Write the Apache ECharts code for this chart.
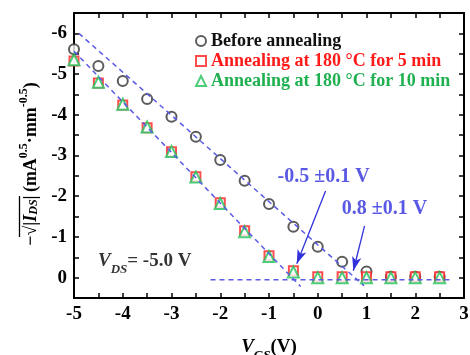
<!DOCTYPE html>
<html>
<head>
<meta charset="utf-8">
<script src="https://cdn.jsdelivr.net/npm/echarts@6/dist/echarts.min.js"></script>
<style>
html, body { margin: 0; padding: 0; background: #fff; }
#chart { width: 470px; height: 355px; }
</style>
</head>
<body>
<div id="chart"></div>
<script>
// 数据
const vgs = [-5, -4.5, -4, -3.5, -3, -2.5, -2, -1.5, -1, -0.5, 0, 0.5, 1, 1.5, 2, 2.5];
const before = [-5.61, -5.2, -4.83, -4.39, -3.95, -3.46, -2.89, -2.38, -1.81, -1.25, -0.76, -0.39, -0.15, -0.02, -0.02, -0.02];
const anneal5 = [-5.32, -4.78, -4.24, -3.68, -3.09, -2.48, -1.84, -1.15, -0.54, -0.17, -0.02, -0.02, -0.02, -0.02, -0.02, -0.02];
const anneal10 = [-5.35, -4.8, -4.26, -3.7, -3.1, -2.47, -1.82, -1.13, -0.52, -0.14, 0, 0, 0, 0, 0, 0];
const seriesNames = ['Before annealing', 'Annealing at 180 °C for 5 min', 'Annealing at 180 °C for 10 min'];

// 拟合虚线
const fitBefore = [[-4.9, -6.0], [0.95, 0.2]];
const fitAnneal = [[-5.0, -5.56], [-0.35, 0.22]];
const offLine = [[-2.2, 0.05], [2.7, 0.05]];

// 标注
const notes = [
    [0.12, -2.48, '-0.5 \u00b10.1 V'],
    [1.37, -1.69, '0.8 \u00b10.1 V']
];
const arrows = [
    [[0.16, -2.13], [-0.43, -0.34]],
    [[0.96, -1.27], [0.73, -0.17]]
];
const vdsNote = [[-3.55, -0.34]];

// 坐标轴范围
const xRange = [-5, 3];
const yRange = [-6.5, 0.5];

const serif = 'Liberation Serif';
const blue = '#3030dc';
const intLabel = v => (Math.abs(v - Math.round(v)) < 1e-9 ? String(Math.round(v)) : '');

const myChart = echarts.init(document.getElementById('chart'));

function axisBase() {
    return {
        type: 'value',
        interval: 0.5,
        axisLine: { show: true, onZero: false, lineStyle: { color: '#000', width: 2 } },
        axisTick: { show: true, inside: true, length: 5, lineStyle: { color: '#000', width: 1.5 } },
        splitLine: { show: false }
    };
}

const pairs = arr => vgs.map((x, i) => [x, arr[i]]);
const dash = { color: '#5a5ae6', width: 1.5, type: [5, 4] };
const tickFont = { color: '#000', fontFamily: serif, fontWeight: 'bold', fontSize: 19, margin: 7 };

// y 轴标题（旋转）
const yTitleRich = {
    m: { fontFamily: serif, fontWeight: 'bold', fontSize: 18, color: '#000', lineHeight: 22, verticalAlign: 'bottom' },
    i: { fontFamily: serif, fontStyle: 'italic', fontWeight: 'bold', fontSize: 18, color: '#000', lineHeight: 22, verticalAlign: 'bottom' },
    s: { fontFamily: serif, fontStyle: 'italic', fontWeight: 'bold', fontSize: 12, color: '#000', lineHeight: 18, verticalAlign: 'bottom' },
    t: { fontFamily: serif, fontWeight: 'bold', fontSize: 18, color: '#000', lineHeight: 22, verticalAlign: 'bottom' },
    p: { fontFamily: serif, fontWeight: 'bold', fontSize: 12, color: '#000', lineHeight: 22, verticalAlign: 'top' }
};

myChart.setOption({
    animation: false,
    grid: { left: 74, right: 6, top: 13, bottom: 57, outerBoundsMode: 'none', containLabel: false },
    graphic: [
        {
            type: 'text',
            x: 29, y: 164,
            rotation: Math.PI / 2,
            style: {
                text: '{m|\u2212\u221a|}{i|I}{s|DS}{m||} {t|(mA}{p|0.5}{t|\u00b7mm}{p|-0.5}{t|)}',
                rich: yTitleRich,
                align: 'center',
                verticalAlign: 'middle'
            }
        },
        {
            // 根号上横线
            type: 'line',
            shape: { x1: 19.5, y1: 196, x2: 19.5, y2: 237 },
            style: { stroke: '#000', lineWidth: 1.3 }
        }
    ],
    legend: {
        orient: 'vertical',
        left: 190,
        top: 26,
        itemGap: 0,
        itemWidth: 10,
        itemHeight: 10,
        data: [
            { name: seriesNames[0], textStyle: { color: '#111' } },
            { name: seriesNames[1], textStyle: { color: '#ff1a1a' } },
            { name: seriesNames[2], textStyle: { color: '#1fb050' } }
        ],
        textStyle: { fontFamily: serif, fontWeight: 'bold', fontSize: 18, lineHeight: 20, padding: [0, 0, 0, 0] }
    },
    xAxis: [
        Object.assign(axisBase(), {
            position: 'bottom', min: xRange[0], max: xRange[1],
            axisLabel: Object.assign({ formatter: intLabel }, tickFont),
            name: '{v|V}{s|GS}{t|(V)}',
            nameLocation: 'middle',
            nameGap: 40,
            nameTextStyle: {
                rich: {
                    v: { fontFamily: serif, fontStyle: 'italic', fontWeight: 'bold', fontSize: 19, color: '#000', lineHeight: 24, verticalAlign: 'top' },
                    s: { fontFamily: serif, fontStyle: 'italic', fontWeight: 'bold', fontSize: 13, color: '#000', lineHeight: 24, verticalAlign: 'bottom' },
                    t: { fontFamily: serif, fontWeight: 'bold', fontSize: 19, color: '#000', lineHeight: 24, verticalAlign: 'top' }
                }
            }
        }),
        Object.assign(axisBase(), {
            position: 'top', min: xRange[0], max: xRange[1],
            axisLabel: { show: false }
        })
    ],
    yAxis: [
        Object.assign(axisBase(), {
            position: 'left', inverse: true, min: yRange[0], max: yRange[1],
            axisLabel: Object.assign({ formatter: intLabel }, tickFont)
        }),
        Object.assign(axisBase(), {
            position: 'right', inverse: true, min: yRange[0], max: yRange[1],
            axisLabel: { show: false }
        })
    ],
    series: [
        { name: 'fitBefore', type: 'line', data: fitBefore, symbol: 'none', silent: true, lineStyle: dash },
        { name: 'fitAnneal', type: 'line', data: fitAnneal, symbol: 'none', silent: true, lineStyle: dash },
        { name: 'off', type: 'line', data: offLine, symbol: 'none', silent: true, lineStyle: dash },
        {
            name: seriesNames[0], type: 'scatter', data: pairs(before),
            symbol: 'emptyCircle', symbolSize: 10,
            itemStyle: { color: '#333', borderWidth: 1.2 }
        },
        {
            name: seriesNames[1], type: 'scatter', data: pairs(anneal5),
            symbol: 'emptyRect', symbolSize: 9,
            itemStyle: { color: '#ff2020', borderWidth: 1.2 }
        },
        {
            name: seriesNames[2], type: 'scatter', data: pairs(anneal10),
            symbol: 'emptyTriangle', symbolSize: 11,
            itemStyle: { color: '#22c05a', borderWidth: 1.2 }
        },
        {
            name: 'notes', type: 'scatter', data: notes, symbolSize: 0, silent: true,
            label: {
                show: true, position: 'inside',
                formatter: p => p.value[2],
                fontFamily: serif, fontWeight: 'bold', fontSize: 20, color: blue
            }
        },
        {
            name: 'vds', type: 'scatter', data: vdsNote, symbolSize: 0, silent: true,
            label: {
                show: true, position: 'inside',
                formatter: '{v|V}{s|DS}{t|= -5.0 V}',
                rich: {
                    v: { fontFamily: serif, fontStyle: 'italic', fontWeight: 'bold', fontSize: 19, color: '#000', lineHeight: 24, verticalAlign: 'top' },
                    s: { fontFamily: serif, fontStyle: 'italic', fontWeight: 'bold', fontSize: 13, color: '#000', lineHeight: 24, verticalAlign: 'bottom' },
                    t: { fontFamily: serif, fontWeight: 'bold', fontSize: 19, color: '#000', lineHeight: 24, verticalAlign: 'top' }
                }
            }
        },
        {
            name: 'arrows', type: 'line', data: [], silent: true,
            markLine: {
                silent: true,
                symbol: ['none', 'arrow'],
                symbolSize: [7, 14],
                label: { show: false },
                lineStyle: { color: blue, width: 1.3, type: 'solid' },
                data: arrows.map(a => [{ coord: a[0] }, { coord: a[1] }])
            }
        }
    ]
});

window.addEventListener('resize', () => {
    myChart.resize();
});
</script>
</body>
</html>
